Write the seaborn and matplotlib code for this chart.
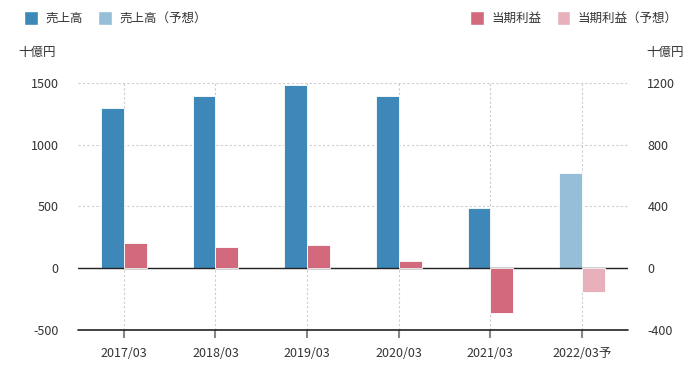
import matplotlib
matplotlib.use("Agg")
import matplotlib.pyplot as plt
from matplotlib.patches import Patch
import seaborn as sns
import pandas as pd

periods = ["2017/03", "2018/03", "2019/03", "2020/03", "2021/03", "2022/03予"]
sales = [1295, 1390, 1485, 1390, 486, 770]
profit = [162, 136, 149, 45, -292, -156]
forecast = [False, False, False, False, False, True]

c_sales, c_sales_f = "#3d87b9", "#95bfd9"
c_profit, c_profit_f = "#d3697d", "#e8b0ba"

sns.set_theme(style="white")
plt.rcParams["font.family"] = ["Noto Sans CJK JP", "DejaVu Sans"]
plt.rcParams["axes.unicode_minus"] = False

df_s = pd.DataFrame({"period": periods, "value": sales, "series": "売上高"})
df_p = pd.DataFrame({"period": periods, "value": profit, "series": "当期利益"})
hue_order = ["売上高", "当期利益"]

fig = plt.figure(figsize=(6.9, 3.7), dpi=100)
ax1 = fig.add_axes([0.113, 0.108, 0.797, 0.668])
ax2 = ax1.twinx()

sns.barplot(data=df_s, x="period", y="value", hue="series", hue_order=hue_order,
            order=periods, dodge=True, width=0.5, ax=ax1,
            palette={"売上高": c_sales, "当期利益": c_profit},
            legend=False, edgecolor="white", linewidth=0.6)
sns.barplot(data=df_p, x="period", y="value", hue="series", hue_order=hue_order,
            order=periods, dodge=True, width=0.5, ax=ax2,
            palette={"売上高": c_sales, "当期利益": c_profit},
            legend=False, edgecolor="white", linewidth=0.6)

for ax, base, fc in [(ax1, c_sales, c_sales_f), (ax2, c_profit, c_profit_f)]:
    for cont in ax.containers:
        for patch, f in zip(cont.patches, forecast):
            patch.set_facecolor(fc if f else base)

ax1.set_ylim(-500, 1500)
ax2.set_ylim(-400, 1200)
ax1.set_xlim(-0.5, 5.5)
ax1.set_yticks([-500, 0, 500, 1000, 1500])
ax2.set_yticks([-400, 0, 400, 800, 1200])

for ax in (ax1, ax2):
    for s in ax.spines.values():
        s.set_visible(False)
    ax.set_xlabel("")
    ax.set_ylabel("")

ax1.set_axisbelow(True)
ax1.grid(True, axis="both", color="#cccccc", linestyle=(0, (2, 2)), linewidth=0.8)
ax2.grid(False)
ax1.axhline(0, color="#222222", linewidth=1.0, zorder=5)
ax1.axhline(-500, color="#222222", linewidth=1.2, zorder=5, clip_on=False)

fs = 9
ax1.tick_params(axis="x", which="both", bottom=True, length=6, width=1.5,
                color="#888888", labelsize=fs, labelcolor="#333333", pad=6)
ax1.tick_params(axis="y", left=False, labelsize=fs, labelcolor="#333333", pad=8)
ax2.tick_params(axis="y", right=False, labelsize=fs, labelcolor="#333333", pad=8)

fig.text(18 / 690, 1 - 52 / 370, "十億円", fontsize=fs, color="#333333", va="center", ha="left")
fig.text(684 / 690, 1 - 52 / 370, "十億円", fontsize=fs, color="#333333", va="center", ha="right")

h_left = [Patch(facecolor=c_sales, label="売上高"), Patch(facecolor=c_sales_f, label="売上高（予想）")]
h_right = [Patch(facecolor=c_profit, label="当期利益"), Patch(facecolor=c_profit_f, label="当期利益（予想）")]
leg_kw = dict(ncol=2, frameon=False, fontsize=fs, handlelength=1.1, handleheight=1.3,
              handletextpad=0.6, columnspacing=1.2, labelcolor="#333333", borderpad=0)
fig.legend(handles=h_left, loc="center left", bbox_to_anchor=(18 / 690, 1 - 18 / 370), **leg_kw)
fig.legend(handles=h_right, loc="center right", bbox_to_anchor=(684 / 690, 1 - 18 / 370), **leg_kw)

fig.savefig("out.png", dpi=100)
